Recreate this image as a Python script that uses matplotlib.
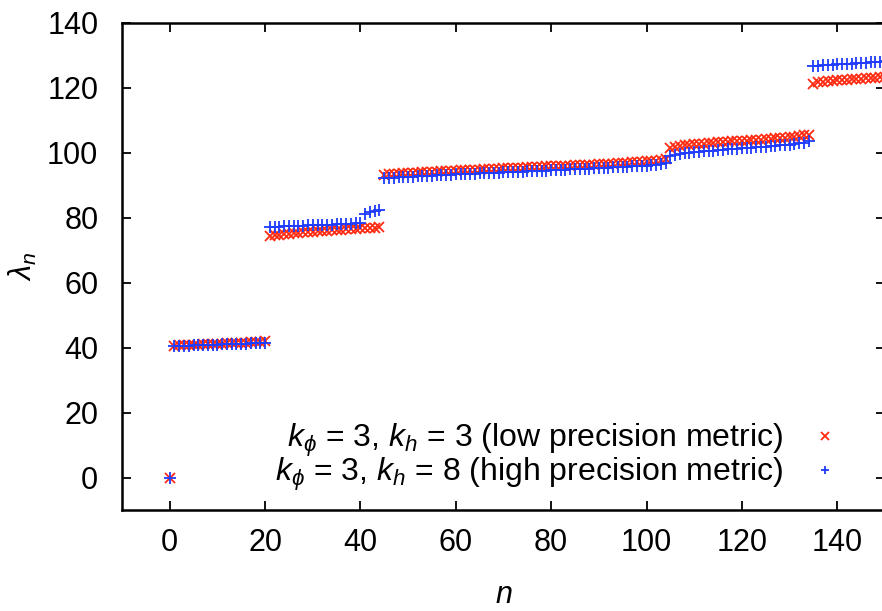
import matplotlib
matplotlib.use('Agg')
import matplotlib.pyplot as plt

plt.rcParams['font.family'] = ['Liberation Sans', 'DejaVu Sans']
plt.rcParams['mathtext.fontset'] = 'custom'
plt.rcParams['mathtext.rm'] = 'Liberation Sans'
plt.rcParams['mathtext.it'] = 'Liberation Sans:italic'
plt.rcParams['mathtext.bf'] = 'Liberation Sans:bold'

# eigenvalue index n = 0..150
n_values = list(range(151))

# k_phi = 3, k_h = 3 (low precision)
low_precision = [
    0.0,
    40.6, 40.7, 40.7, 40.8, 40.9, 40.9, 41.0, 41.0, 41.1, 41.1,
    41.2, 41.3, 41.3, 41.4, 41.4, 41.5, 41.6, 41.7, 41.8, 41.9,
    74.3, 74.6, 74.8, 75.0, 75.1, 75.3, 75.4, 75.5, 75.6, 75.7, 75.8, 75.9,
    76.0, 76.1, 76.2, 76.3, 76.4, 76.5, 76.6, 76.7, 76.8, 76.9, 77.0, 77.2,
    93.2, 93.4, 93.5, 93.6, 93.7, 93.8, 93.9, 93.9, 94.0, 94.1,
    94.2, 94.2, 94.3, 94.4, 94.4, 94.5, 94.6, 94.6, 94.7, 94.8,
    94.8, 94.9, 95.0, 95.0, 95.1, 95.2, 95.2, 95.3, 95.4, 95.4,
    95.5, 95.6, 95.6, 95.7, 95.8, 95.8, 95.9, 96.0, 96.0, 96.1,
    96.2, 96.2, 96.3, 96.4, 96.4, 96.5, 96.6, 96.7, 96.7, 96.8,
    96.9, 97.0, 97.1, 97.2, 97.3, 97.4, 97.5, 97.6, 97.8, 98.0,
    101.6, 101.9, 102.1, 102.3, 102.4, 102.6, 102.7, 102.8, 102.9, 103.0,
    103.2, 103.3, 103.4, 103.5, 103.6, 103.7, 103.8, 103.9, 104.0, 104.1,
    104.2, 104.3, 104.5, 104.6, 104.7, 104.8, 105.0, 105.2, 105.4, 105.6,
    121.3, 121.7, 121.9, 122.0, 122.2, 122.3, 122.4, 122.5,
    122.6, 122.7, 122.8, 122.9, 123.0, 123.1, 123.3, 123.5,
]

# k_phi = 3, k_h = 8 (high precision)
high_precision = [
    0.0,
    40.4, 40.5, 40.5, 40.6, 40.7, 40.7, 40.8, 40.8, 40.9, 40.9,
    41.0, 41.0, 41.1, 41.1, 41.2, 41.2, 41.3, 41.3, 41.4, 41.5,
    77.2, 77.3, 77.3, 77.4, 77.5, 77.5, 77.6, 77.6, 77.7, 77.7,
    77.8, 77.8, 77.9, 77.9, 78.0, 78.1, 78.1, 78.2, 78.3, 78.5,
    81.3, 81.7, 82.0, 82.4,
    92.1, 92.3, 92.4, 92.5, 92.6, 92.7, 92.7, 92.8, 92.9, 93.0,
    93.0, 93.1, 93.2, 93.2, 93.3, 93.4, 93.4, 93.5, 93.5, 93.6,
    93.7, 93.7, 93.8, 93.9, 93.9, 94.0, 94.0, 94.1, 94.2, 94.2,
    94.3, 94.4, 94.4, 94.5, 94.5, 94.6, 94.7, 94.7, 94.8, 94.9,
    94.9, 95.0, 95.1, 95.1, 95.2, 95.3, 95.3, 95.4, 95.5, 95.6,
    95.6, 95.7, 95.8, 95.9, 96.0, 96.1, 96.2, 96.3, 96.5, 96.8,
    99.0, 99.4, 99.7, 99.9, 100.1, 100.2, 100.4, 100.5, 100.6, 100.7,
    100.9, 101.0, 101.1, 101.2, 101.3, 101.4, 101.5, 101.6, 101.7, 101.8,
    101.9, 102.0, 102.2, 102.3, 102.4, 102.5, 102.7, 102.9, 103.1, 103.5,
    126.6, 126.8, 127.0, 127.1, 127.2, 127.3, 127.4, 127.5,
    127.5, 127.6, 127.7, 127.8, 127.9, 128.0, 128.1, 128.3,
]

label_low = r'$k_\phi$ = 3, $k_h$ = 3 (low precision metric)'
label_high = r'$k_\phi$ = 3, $k_h$ = 8 (high precision metric)'

fig = plt.figure(figsize=(8.82, 6.11), dpi=100)
# right border of the frame falls just outside the picture
ax = fig.add_axes([0.1383, 0.1653, 0.8651, 0.7971])

ax.plot(n_values, low_precision, linestyle='none', marker='x', markersize=7,
        markeredgewidth=1.3, color='#ff2a10', label=label_low, clip_on=False)
ax.plot(n_values, high_precision, linestyle='none', marker='+', markersize=8,
        markeredgewidth=1.3, color='#1f3cff', label=label_high, clip_on=False)

ax.set_xlim(-10, 150)
ax.set_ylim(-10, 140)
ax.set_xticks(range(0, 141, 20))
ax.set_yticks(range(0, 141, 20))

ax.tick_params(direction='in', length=6.5, width=1.3, labelsize=22,
               top=True, right=True)
ax.tick_params(axis='y', pad=17)
ax.tick_params(axis='x', pad=13)
for sp in ax.spines.values():
    sp.set_linewidth(1.8)

ax.set_xlabel(r'$n$', fontsize=22, labelpad=16)
ax.set_ylabel(r'$\lambda_n$', fontsize=22, labelpad=6)

ax.legend(loc='lower right', bbox_to_anchor=(0.963, 0.002), frameon=False,
          markerfirst=False, fontsize=23, handlelength=1.0,
          handletextpad=0.8, borderpad=0, labelspacing=-0.1,
          markerscale=0.8)

fig.savefig('out.png', dpi=100)
